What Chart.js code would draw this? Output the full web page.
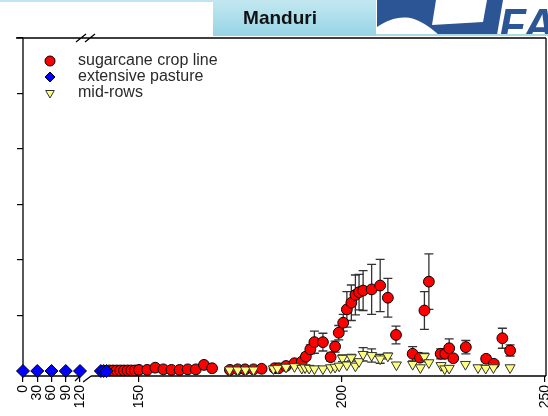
<!DOCTYPE html>
<html>
<head>
<meta charset="utf-8">
<script src="https://cdn.jsdelivr.net/npm/chart.js@4.4.1/dist/chart.umd.min.js"></script>
<style>
  html, body { margin: 0; padding: 0; background: #fff; }
  #wrap { width: 548px; height: 416px; }
</style>
</head>
<body>
<div id="wrap"><canvas id="myChart" width="548" height="416"></canvas></div>
<script>
// --- data (days after planting, arbitrary flux units) ---
const tickDays = [0, 30, 60, 90, 120, 150, 200, 250];

const cropDays = [142.7, 143.6, 144.5, 145.4, 146.3, 147.2, 148.1, 149,
  150, 152, 154, 156, 158, 160, 162, 164, 166, 168,
  172.4, 174.3, 176.1, 178.2, 180.2,
  183.4, 184.4, 186.2, 188.3, 190.1, 191.1, 192.2, 193.2, 195.3, 197.2,
  198.3, 199.2, 200.3, 201.2, 202.3, 203.3, 204.2, 205.2, 207.3, 209.4,
  211.3, 213.3, 217.4, 219.2, 220.3, 221.4, 224.3, 225.4, 226.4, 227.4,
  230.5, 235.5, 237.4, 239.5, 241.4];
const cropVals = [0.01, 0.01, 0.01, 0.01, 0.01, 0.01, 0.01, 0.01,
  0.02, 0.02, 0.06, 0.03, 0.02, 0.02, 0.03, 0.03, 0.11, 0.05,
  0.02, 0.03, 0.03, 0.03, 0.04,
  0.05, 0.05, 0.09, 0.14, 0.17, 0.26, 0.39, 0.52, 0.52, 0.25,
  0.44, 0.69, 0.87, 1.11, 1.23, 1.37, 1.42, 1.45, 1.47, 1.54,
  1.32, 0.65, 0.31, 0.24, 1.09, 1.61, 0.31, 0.31, 0.41, 0.23,
  0.43, 0.22, 0.13, 0.59, 0.37];
const cropErr = [0, 0, 0, 0, 0, 0, 0, 0,
  0, 0, 0, 0, 0, 0, 0, 0, 0, 0,
  0, 0, 0, 0, 0,
  0, 0, 0.03, 0.04, 0.05, 0.06, 0.08, 0.2, 0.16, 0.07,
  0.1, 0.13, 0.15, 0.32, 0.32, 0.36, 0.32, 0.36, 0.45, 0.47,
  0.35, 0.16, 0.13, 0.07, 0.34, 0.5, 0.09, 0.06, 0.17, 0.05,
  0.12, 0.05, 0.03, 0.18, 0.1];

const pastureDays = [0, 30, 60, 90, 120, 140.6, 141.3, 142];
const pastureVals = [0, 0, 0, 0, 0, 0, 0, 0];

const midDays = [172.3, 174.3, 176.2, 178.2, 183.1, 184.1, 186.2, 188.3, 190.1, 190.9,
  191.9, 193.2, 195.3, 197.2, 198.3, 199.3, 200.1, 201.2, 202.3, 203.3,
  204.2, 205.2, 207.3, 209.4, 211.3, 213.4, 217.4, 219.3, 220.3, 221.4,
  224.4, 225.3, 226.4, 230.4, 233.5, 235.4, 237.3, 241.4];
const midVals = [0.02, 0.02, 0.02, 0.02, 0.04, 0.05, 0.07, 0.08, 0.05, 0.06,
  0.05, 0.04, 0.04, 0.06, 0.07, 0.09, 0.23, 0.11, 0.24, 0.09,
  0.17, 0.3, 0.28, 0.22, 0.27, 0.11, 0.12, 0.06, 0.26, 0.15,
  0.1, 0.04, 0.05, 0.12, 0.06, 0.05, 0.06, 0.06];
const midErr = [0, 0, 0, 0, 0, 0, 0, 0, 0, 0,
  0, 0, 0, 0, 0, 0, 0.06, 0, 0.06, 0,
  0, 0.12, 0.12, 0.08, 0.05, 0, 0, 0, 0.06, 0,
  0, 0, 0, 0, 0, 0, 0, 0];

// broken x axis: 0-120 squeezed, 138-250 stretched
const LEFT_SCALE = 57 / 120;
const RIGHT_START = 116, RIGHT_DAY0 = 150, RIGHT_SCALE = 4.06;
function axisPos(day) {
  return day <= 130 ? day * LEFT_SCALE : RIGHT_START + (day - RIGHT_DAY0) * RIGHT_SCALE;
}
const BREAK_LEFT = 120, BREAK_RIGHT = 138.2;

function points(days, vals) {
  return days.map((d, i) => ({x: axisPos(d), y: vals[i]}));
}

const FONT = "'Liberation Sans', Arial, sans-serif";

const header = {
  id: 'header',
  beforeDraw(chart) {
    const ctx = chart.ctx;
    ctx.save();
    ctx.fillStyle = '#bfe5ef';
    ctx.fillRect(0, 0, 213, 2);
    const g = ctx.createLinearGradient(0, 0, 0, 36);
    g.addColorStop(0, '#c3e8f1');
    g.addColorStop(1, '#96d4e5');
    ctx.fillStyle = g;
    ctx.fillRect(213, 0, 163, 36);
    // logo
    ctx.beginPath();
    ctx.rect(376, 0, 172, 35);
    ctx.clip();
    ctx.fillStyle = '#2c5596';
    ctx.beginPath();
    ctx.moveTo(377, 0); ctx.lineTo(503, 0); ctx.lineTo(497, 35); ctx.lineTo(377, 35);
    ctx.closePath(); ctx.fill();
    ctx.fillStyle = '#fff';
    ctx.beginPath();
    ctx.moveTo(436, 0); ctx.lineTo(487, 0); ctx.lineTo(483, 22); ctx.lineTo(432, 25);
    ctx.closePath(); ctx.fill();
    ctx.beginPath();
    ctx.moveTo(377, 27);
    ctx.bezierCurveTo(388, 20, 400, 15, 414, 19);
    ctx.bezierCurveTo(425, 23, 432, 29, 440, 36);
    ctx.lineTo(377, 36);
    ctx.closePath(); ctx.fill();
    ctx.fillStyle = '#2c5596';
    ctx.font = 'italic bold 44px ' + FONT;
    ctx.textBaseline = 'alphabetic';
    ctx.textAlign = 'left';
    ctx.fillText('FA', 499, 40);
    ctx.restore();
    ctx.save();
    ctx.fillStyle = '#a9dbe7';
    ctx.fillRect(376, 34, 172, 2);
    ctx.fillStyle = '#111';
    ctx.font = 'bold 19px ' + FONT;
    ctx.textAlign = 'center';
    ctx.textBaseline = 'middle';
    ctx.fillText('Manduri', 280, 19);
    ctx.restore();
  }
};

const frame = {
  id: 'frame',
  beforeDatasetsDraw(chart) {
    const {ctx, chartArea: a, scales: {x}} = chart;
    const b1 = x.getPixelForValue(axisPos(BREAK_LEFT));
    const b2 = x.getPixelForValue(axisPos(BREAK_RIGHT));
    ctx.save();
    ctx.strokeStyle = '#000';
    ctx.lineWidth = 1.3;
    ctx.beginPath();
    ctx.moveTo(a.left - 7, a.top); ctx.lineTo(a.right, a.top);
    ctx.moveTo(a.left, a.top); ctx.lineTo(a.left, a.bottom);
    ctx.moveTo(a.right, a.top); ctx.lineTo(a.right, a.bottom);
    ctx.moveTo(a.left, a.bottom); ctx.lineTo(b1, a.bottom);
    ctx.moveTo(b2, a.bottom); ctx.lineTo(a.right, a.bottom);
    // break marks
    ctx.moveTo(b1 - 4, a.top + 4); ctx.lineTo(b1 + 6, a.top - 4);
    ctx.moveTo(b1 + 5, a.top + 4); ctx.lineTo(b1 + 15, a.top - 4);
    ctx.moveTo(b1 - 5, a.bottom + 5); ctx.lineTo(b1 + 1, a.bottom - 1);
    ctx.moveTo(b2 - 8, a.bottom + 6); ctx.lineTo(b2, a.bottom);
    ctx.stroke();
    ctx.restore();
  }
};

const errorBars = {
  id: 'errorBars',
  beforeDatasetDraw(chart, args) {
    const ds = chart.data.datasets[args.index];
    if (!ds.errors) return;
    const {ctx, scales: {x, y}} = chart;
    ctx.save();
    ctx.strokeStyle = '#333';
    ctx.lineWidth = 1.3;
    ds.data.forEach((p, i) => {
      const e = ds.errors[i];
      if (!e) return;
      const px = x.getPixelForValue(p.x);
      const top = y.getPixelForValue(p.y + e);
      const bot = y.getPixelForValue(p.y - e);
      ctx.beginPath();
      ctx.moveTo(px, top); ctx.lineTo(px, bot);
      ctx.moveTo(px - 4.5, top); ctx.lineTo(px + 4.5, top);
      ctx.moveTo(px - 4.5, bot); ctx.lineTo(px + 4.5, bot);
      ctx.stroke();
    });
    ctx.restore();
  }
};

// legend drawn inside the plot box, top-left
const legendOrder = [0, 1, 2];
const insideLegend = {
  id: 'insideLegend',
  afterDraw(chart) {
    const {ctx, chartArea: a} = chart;
    ctx.save();
    ctx.font = '16px ' + FONT;
    ctx.textBaseline = 'middle';
    ctx.textAlign = 'left';
    legendOrder.forEach((di, row) => {
      const ds = chart.data.datasets[di];
      const cy = a.top + 23 + row * 16;
      ctx.fillStyle = ds.backgroundColor;
      ctx.strokeStyle = ds.borderColor;
      ctx.lineWidth = 1;
      Chart.helpers.drawPoint(ctx, {
        pointStyle: ds.pointStyle, rotation: ds.rotation || 0, radius: 5, borderWidth: 1
      }, a.left + 27, cy);
      ctx.fillStyle = '#2a2a2a';
      ctx.fillText(ds.label, a.left + 55, cy);
    });
    ctx.restore();
  }
};

const ctx = document.getElementById('myChart').getContext('2d');
const myChart = new Chart(ctx, {
  type: 'scatter',
  data: {
    datasets: [{
      label: 'sugarcane crop line',
      data: points(cropDays, cropVals),
      errors: cropErr,
      pointStyle: 'circle',
      pointRadius: 5.4,
      backgroundColor: '#ff0000',
      borderColor: '#000',
      borderWidth: 1,
      order: 3,
      clip: false
    }, {
      label: 'extensive pasture',
      data: points(pastureDays, pastureVals),
      pointStyle: 'rectRot',
      pointRadius: 6.5,
      backgroundColor: '#0000ff',
      borderColor: '#000',
      borderWidth: 1,
      order: 2,
      clip: false
    }, {
      label: 'mid-rows',
      data: points(midDays, midVals),
      errors: midErr,
      pointStyle: 'triangle',
      rotation: 180,
      pointRadius: 5.8,
      backgroundColor: '#ffff80',
      borderColor: '#333',
      borderWidth: 1,
      order: 1,
      clip: false
    }]
  },
  options: {
    responsive: false,
    animation: false,
    layout: { autoPadding: false, padding: { top: 38, right: 2, left: 0, bottom: 0 } },
    plugins: { legend: { display: false }, tooltip: { enabled: false } },
    scales: {
      x: {
        type: 'linear',
        min: 0,
        max: 523,
        afterFit: s => { s.height = 40; s.paddingLeft = 0; s.paddingRight = 0; },
        afterBuildTicks: s => { s.ticks = tickDays.map(d => ({ value: axisPos(d) })); },
        border: { display: false },
        grid: { drawOnChartArea: false, drawTicks: true, tickLength: 6, color: '#000', lineWidth: 1.2 },
        ticks: {
          autoSkip: false, maxRotation: 90, minRotation: 90, padding: 3,
          color: '#000', font: { family: FONT, size: 14 },
          callback: (v, i) => tickDays[i]
        }
      },
      y: {
        min: -0.09,
        max: 6,
        afterFit: s => { s.width = 23; s.paddingTop = 0; s.paddingBottom = 0; },
        afterBuildTicks: s => { s.ticks = [0, 1, 2, 3, 4, 5, 6].map(v => ({ value: v })); },
        border: { display: false },
        grid: { drawOnChartArea: false, drawTicks: true, tickLength: 6, color: '#000', lineWidth: 1.2 },
        ticks: { display: false }
      }
    }
  },
  plugins: [header, frame, errorBars, insideLegend]
});
</script>
</body>
</html>
